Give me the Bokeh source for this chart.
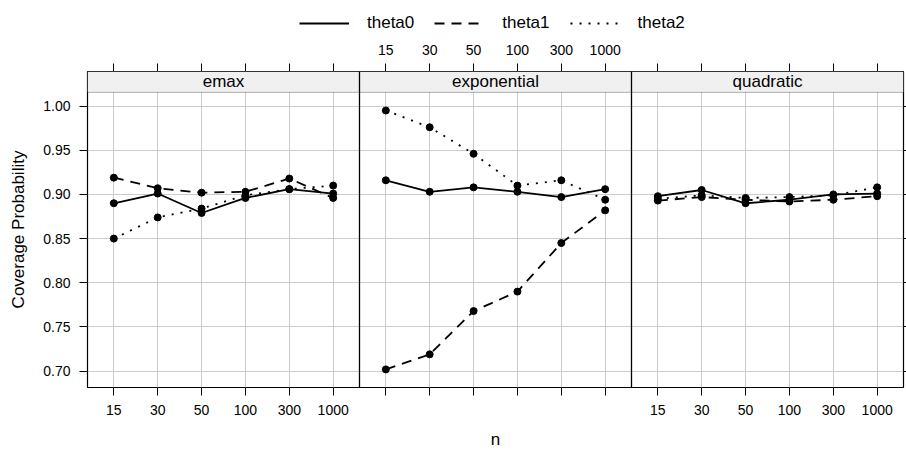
from bokeh.plotting import figure
from bokeh.layouts import column
from bokeh.models import (Range1d, FixedTicker, LinearAxis, Grid, BoxAnnotation,
                          Span, Label, Legend, LegendItem, ColumnDataSource)
from bokeh.embed import file_html
from bokeh.resources import INLINE

# ---------------- data ----------------
panels = ["emax", "exponential", "quadratic"]
n_labels = ["15", "30", "50", "100", "300", "1000"]
series = ["theta0", "theta1", "theta2"]

emax_theta0 = [0.890, 0.901, 0.879, 0.896, 0.906, 0.901]
emax_theta1 = [0.919, 0.907, 0.902, 0.903, 0.918, 0.896]
emax_theta2 = [0.850, 0.874, 0.884, 0.899, 0.906, 0.910]

exponential_theta0 = [0.916, 0.903, 0.908, 0.903, 0.897, 0.906]
exponential_theta1 = [0.702, 0.719, 0.768, 0.790, 0.845, 0.882]
exponential_theta2 = [0.995, 0.976, 0.946, 0.910, 0.916, 0.894]

quadratic_theta0 = [0.898, 0.905, 0.890, 0.894, 0.900, 0.901]
quadratic_theta1 = [0.893, 0.897, 0.894, 0.892, 0.894, 0.898]
quadratic_theta2 = [0.895, 0.899, 0.896, 0.897, 0.899, 0.908]

y_ticks = [0.70, 0.75, 0.80, 0.85, 0.90, 0.95, 1.00]
y_tick_labels = ["0.70", "0.75", "0.80", "0.85", "0.90", "0.95", "1.00"]

values = {
    "emax": [emax_theta0, emax_theta1, emax_theta2],
    "exponential": [exponential_theta0, exponential_theta1, exponential_theta2],
    "quadratic": [quadratic_theta0, quadratic_theta1, quadratic_theta2],
}

# ---------------- layout constants ----------------
W, H = 906, 451
LEG_H = 41
ML, MR, MT, MB = 87, 3, 30, 62
PH = H - LEG_H
FRAME_H = PH - MT - MB
STRIP_PX = 21
FONT = "Liberation Sans"
dashes = ["solid", "10 7", "2 7"]
LW = 1.8

CAT = 5            # units per category step
PW = 31            # panel width in units
X0 = 2             # left edge of first panel
NP = len(panels)
NC = len(n_labels)
x_end = X0 + PW * NP

all_vals = [v for p in panels for s in values[p] for v in s]
vmin, vmax = min(all_vals), max(all_vals)
pad = 0.07 * (vmax - vmin)
lo, hi = vmin - pad, vmax + pad
y_end = hi + (hi - lo) * STRIP_PX / (FRAME_H - STRIP_PX)

p = figure(width=W, height=PH, output_backend="svg", toolbar_location=None,
           x_range=Range1d(X0, x_end), y_range=Range1d(lo, y_end),
           x_axis_location=None, y_axis_location=None,
           min_border_left=ML, min_border_right=MR,
           min_border_top=MT, min_border_bottom=MB)
p.xgrid.visible = False
p.ygrid.visible = False
p.outline_line_color = "black"
p.outline_line_width = 1.2
p.background_fill_color = "white"
p.border_fill_color = "white"

# per-panel x ranges: category index 1..6 maps into panel k
for k in range(NP):
    p.extra_x_ranges[f"p{k}"] = Range1d((X0 - PW * k) / CAT, (x_end - PW * k) / CAT)

x_ticks = [CAT * (i + 1) + PW * k for k in range(NP) for i in range(NC)]
bottom_over = {CAT * (i + 1) + PW * k: (n_labels[i] if k != 1 else "")
               for k in range(NP) for i in range(NC)}
top_over = {CAT * (i + 1) + PW * k: (n_labels[i] if k == 1 else "")
            for k in range(NP) for i in range(NC)}


def style(ax, tick_out=8, standoff=5):
    ax.axis_line_color = None
    ax.major_tick_in = 0
    ax.major_tick_out = tick_out
    ax.major_tick_line_color = "black"
    ax.minor_tick_line_color = None
    ax.major_label_text_font = FONT
    ax.major_label_text_font_size = "14px"
    ax.major_label_text_color = "black"
    ax.major_label_standoff = standoff
    ax.axis_label_text_font = FONT
    ax.axis_label_text_font_size = "17px"
    ax.axis_label_text_font_style = "normal"
    ax.axis_label_text_color = "black"


xb = LinearAxis(ticker=FixedTicker(ticks=x_ticks), major_label_overrides=bottom_over,
                axis_label="n")
style(xb, standoff=9)
xb.axis_label_standoff = 12
p.add_layout(xb, "below")

xt = LinearAxis(ticker=FixedTicker(ticks=x_ticks), major_label_overrides=top_over)
style(xt, standoff=9)
p.add_layout(xt, "above")

yl = LinearAxis(ticker=FixedTicker(ticks=y_ticks),
                major_label_overrides=dict(zip(y_ticks, y_tick_labels)),
                axis_label="Coverage Probability")
style(yl, standoff=9)
yl.axis_label_standoff = 12
p.add_layout(yl, "left")

yr = LinearAxis(ticker=FixedTicker(ticks=y_ticks),
                major_label_overrides={t: "" for t in y_ticks})
style(yr, tick_out=3, standoff=0)
yr.major_label_text_font_size = "1px"
p.add_layout(yr, "right")

grid_color = "#cccccc"
p.add_layout(Grid(dimension=0, ticker=FixedTicker(ticks=x_ticks),
                  grid_line_color=grid_color, grid_line_width=1))
p.add_layout(Grid(dimension=1, ticker=FixedTicker(ticks=y_ticks),
                  grid_line_color=grid_color, grid_line_width=1))

# data
for k, name in enumerate(panels):
    for j, s in enumerate(series):
        src = ColumnDataSource(dict(x=list(range(1, NC + 1)), y=values[name][j]))
        p.line("x", "y", source=src, x_range_name=f"p{k}", line_color="black",
               line_width=LW, line_dash=dashes[j])
        p.scatter("x", "y", source=src, x_range_name=f"p{k}", size=7,
                  fill_color="black", line_color="black")

# strips and panel borders
strip_bottom = hi
for k, name in enumerate(panels):
    left = X0 + PW * k
    p.add_layout(BoxAnnotation(left=left, right=left + PW, bottom=strip_bottom,
                               fill_color="#f0f0f0", fill_alpha=1,
                               line_color="black", line_width=1, level="annotation"))
    p.add_layout(Label(x=left + PW / 2, y=(strip_bottom + y_end) / 2, text=name,
                       text_align="center", text_baseline="middle",
                       text_font=FONT, text_font_size="17px", text_color="black"))
    if k > 0:
        p.add_layout(Span(location=left, dimension="height", line_color="black",
                          line_width=1.3))

# ---------------- legend strip on top ----------------
lg = figure(width=W, height=LEG_H, output_backend="svg", toolbar_location=None,
            x_range=Range1d(0, 1), y_range=Range1d(0, 1),
            x_axis_location=None, y_axis_location=None,
            min_border_left=0, min_border_right=0, min_border_top=0, min_border_bottom=0)
lg.xgrid.visible = False
lg.ygrid.visible = False
lg.outline_line_color = None
lg.background_fill_color = "white"
lg.border_fill_color = "white"
nan = float("nan")
items = []
for j, s in enumerate(series):
    r = lg.line(x=[nan, nan], y=[nan, nan], line_color="black", line_width=LW,
                line_dash=dashes[j])
    items.append(LegendItem(label=s, renderers=[r]))
legend = Legend(items=items, orientation="horizontal", location=(212, 8),
                glyph_width=50, glyph_height=20, label_standoff=18, spacing=20,
                padding=0, margin=0, background_fill_alpha=0, border_line_color=None,
                label_text_font=FONT, label_text_font_size="17px",
                label_text_color="black")
lg.add_layout(legend)

layout = column(lg, p, spacing=0)
open("out.html", "w").write(file_html(layout, INLINE))
